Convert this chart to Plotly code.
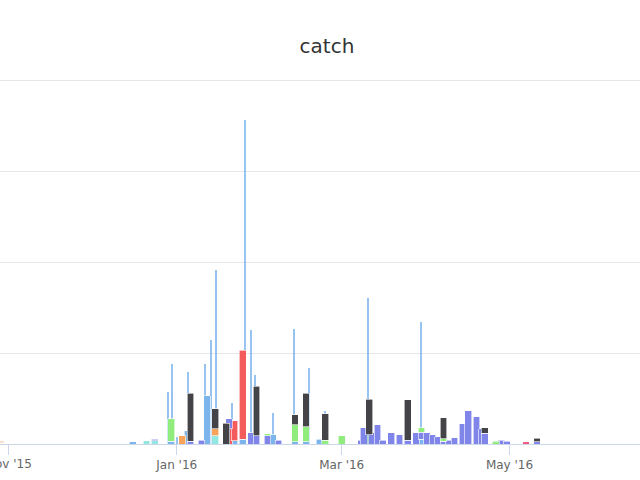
import plotly.graph_objects as go

# ---- data ----
thin_dates = ["2015-12-28T19:00", "2015-12-30T12:00", "2016-01-01T01:00", "2016-01-05T02:00",
              "2016-01-11T12:00", "2016-01-13T17:00", "2016-01-15T12:00", "2016-01-21T01:00",
              "2016-01-25T19:00", "2016-01-27T22:00", "2016-01-29T17:00", "2016-02-04T22:00",
              "2016-02-12T19:00", "2016-02-18T05:00", "2016-02-23T22:00", "2016-03-10T19:00",
              "2016-03-29T19:00"]
thin_vals = [5.7, 8.8, 0.8, 7.9, 8.8, 11.4, 19.1, 4.5, 35.6, 12.5, 7.6, 3.4, 12.6, 8.4, 3.6, 16.0, 13.4]

lb_dates = ["2015-12-16", "2015-12-30", "2016-01-05", "2016-01-12", "2016-01-22", "2016-01-25",
            "2016-02-05", "2016-02-13", "2016-02-17", "2016-02-22", "2016-03-30"]
lb_vals = [0.25, 0.33, 1.43, 5.3, 0.35, 0.55, 1.0, 0.25, 0.25, 0.5, 0.5]

cyan_dates = ["2015-12-21", "2015-12-24", "2016-01-15"]
cyan_vals = [0.35, 0.35, 0.88]

red_dates = ["2016-01-20", "2016-01-22", "2016-01-25"]
red_vals = [1.65, 2.2, 9.78]

teal_dates = ["2016-03-11"]
teal_vals = [1.0]

yellow_dates = ["2015-10-29"]
yellow_vals = [0.1]

pink_dates = ["2015-10-29", "2016-05-07"]
pink_vals = [0.1, 0.25]

purple_dates = ["2015-12-24", "2016-01-06", "2016-01-10", "2016-01-20", "2016-01-28", "2016-01-30",
                "2016-02-03", "2016-02-07", "2016-03-08", "2016-03-09", "2016-03-12", "2016-03-14",
                "2016-03-16", "2016-03-19", "2016-03-22", "2016-03-25", "2016-03-28", "2016-03-30",
                "2016-04-01", "2016-04-03", "2016-04-05", "2016-04-07", "2016-04-09", "2016-04-11",
                "2016-04-14", "2016-04-16", "2016-04-19", "2016-04-21", "2016-04-22", "2016-04-28",
                "2016-04-30", "2016-05-11"]
purple_vals = [0.2, 0.3, 0.4, 1.1, 1.24, 0.88, 0.9, 0.4, 0.44, 1.8, 1.25, 2.1,
               0.44, 1.24, 1.0, 0.44, 1.24, 0.77, 1.24, 1.0, 0.8, 0.3, 0.44, 0.66,
               2.2, 3.66, 3.0, 1.7, 1.2, 0.44, 0.33, 0.25]

orange_dates = ["2015-10-29", "2016-01-03", "2016-01-15"]
orange_vals = [0.1, 0.88, 0.77]

green_dates = ["2015-12-30", "2016-02-03", "2016-02-13", "2016-02-17", "2016-02-24", "2016-03-01",
               "2016-03-30", "2016-04-07", "2016-04-26"]
green_vals = [2.42, 0.25, 1.84, 1.65, 0.44, 0.88, 0.5, 0.3, 0.3]

dark_dates = ["2016-01-06", "2016-01-15", "2016-01-19", "2016-01-30", "2016-02-13", "2016-02-17",
              "2016-02-24", "2016-03-11", "2016-03-25", "2016-04-07", "2016-04-22", "2016-05-11"]
dark_vals = [5.3, 2.2, 2.3, 5.49, 1.1, 3.7, 2.86, 3.9, 4.4, 2.3, 0.6, 0.4]

tick_vals = ["2015-11-01", "2016-01-01", "2016-03-01", "2016-05-01"]
tick_text = ["Nov '15", "Jan '16", "Mar '16", "May '16"]

DAY = 86400000
WIDE = 2.5 * DAY
THIN = 0.55 * DAY

fig = go.Figure()

fig.add_trace(go.Bar(x=thin_dates, y=thin_vals, width=[THIN] * len(thin_vals),
                     marker=dict(color="#7cb5ec", line=dict(width=0)), opacity=0.8))

# stacked series: bottom first
stack = [
    (lb_dates, lb_vals, "#7cb5ec"),
    (cyan_dates, cyan_vals, "#91e8e1"),
    (red_dates, red_vals, "#f45b5b"),
    (teal_dates, teal_vals, "#2b908f"),
    (yellow_dates, yellow_vals, "#e4d354"),
    (pink_dates, pink_vals, "#f15c80"),
    (purple_dates, purple_vals, "#8085e9"),
    (orange_dates, orange_vals, "#f7a35c"),
    (green_dates, green_vals, "#90ed7d"),
    (dark_dates, dark_vals, "#434348"),
]
for d, v, c in stack:
    fig.add_trace(go.Bar(x=d, y=v, width=[WIDE] * len(v),
                         marker=dict(color=c, line=dict(color="#ffffff", width=0.6))))

fig.update_layout(
    width=640, height=480,
    barmode="stack",
    showlegend=False,
    paper_bgcolor="#ffffff", plot_bgcolor="#ffffff",
    margin=dict(l=0, r=0, t=75, b=36, autoexpand=False),
    title=dict(text="catch", x=327 / 640, xanchor="center", xref="paper",
               y=1 - 46 / 480, yanchor="middle",
               font=dict(family="DejaVu Sans", size=20, color="#333333")),
    font=dict(family="DejaVu Sans"),
)
# first tick label sits partly outside the page on the left, as in the reference
fig.add_annotation(x=tick_vals[0], y=0, xref="x", yref="paper", text=tick_text[0],
                   showarrow=False, xanchor="center", yanchor="top", yshift=-11,
                   font=dict(size=12, color="#666666", family="DejaVu Sans"))
fig.update_xaxes(
    type="date",
    range=["2015-10-28T17:30", "2016-06-17T11:00"],
    tickmode="array", tickvals=tick_vals, ticktext=tick_text,
    ticks="outside", ticklen=10, tickcolor="#ccd6eb", tickwidth=1,
    showline=True, linecolor="#ccd6eb", linewidth=1,
    showgrid=False, zeroline=False,
    tickfont=dict(size=12, color="#666666", family="DejaVu Sans"),
)
fig.update_yaxes(
    range=[0, 40.55], tickmode="linear", tick0=0, dtick=10,
    showticklabels=False, showgrid=True, gridcolor="#e6e6e6", gridwidth=1,
    zeroline=False, showline=False,
)

fig.write_html("out.html", config={"displayModeBar": False},
               post_script="document.body.style.margin='0';")
